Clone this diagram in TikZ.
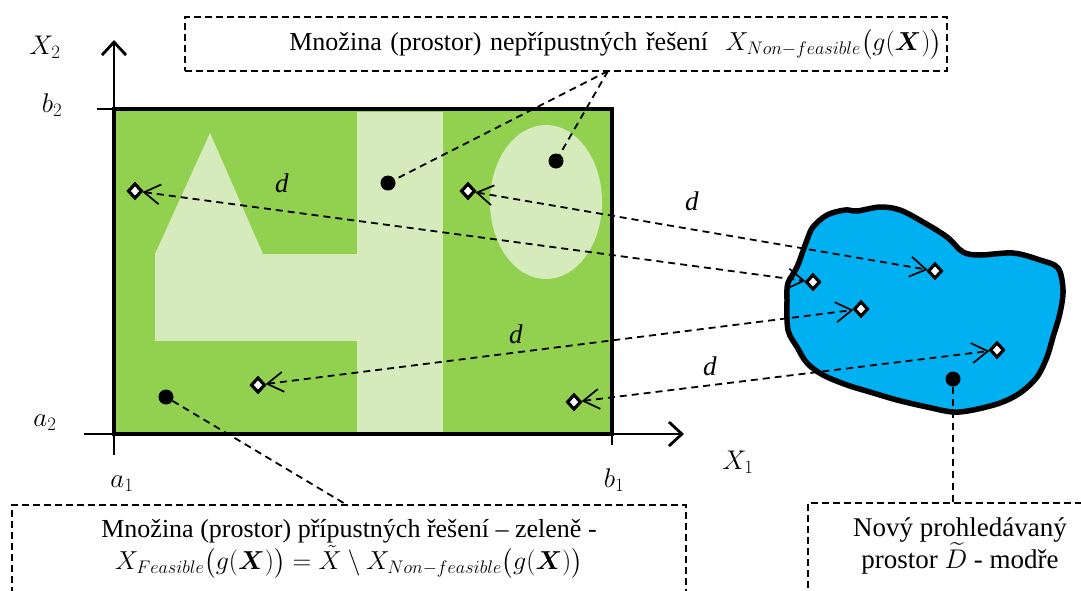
\RequirePackage{fix-cm}
\documentclass[tikz,border=0pt]{standalone}
\usepackage{fontspec}
\setmainfont{Liberation Serif}
\usepackage{amsmath}
\usetikzlibrary{arrows.meta,shapes.geometric}
\definecolor{dkgreen}{RGB}{146,208,80}
\definecolor{ltgreen}{RGB}{213,235,187}
\definecolor{blobblue}{RGB}{0,176,240}
\begin{document}
\begin{tikzpicture}[x=1pt,y=-1pt,
  dashln/.style={line width=1.8pt, dash pattern=on 7pt off 5pt},
  dist/.style={dashln, {Straight Barb[length=16pt,width=20pt,line width=1.7pt]}-{Straight Barb[length=16pt,width=20pt,line width=1.7pt]}},
  pt/.style={diamond, draw, fill=white, line width=3pt, minimum width=14pt, minimum height=15pt, inner sep=0pt},
  dot/.style={circle, fill=black, minimum size=15pt, inner sep=0pt},
  box/.style={draw, line width=1.3pt, dash pattern=on 7pt off 4pt},
  lbl/.style={font=\fontsize{26}{32}\selectfont},
  axl/.style={font=\fontsize{27}{30}\selectfont},
  axis/.style={line width=2.8pt},
  tick/.style={line width=1.3pt}
]
\useasboundingbox (0,0) rectangle (1081,590);
\clip (0,0) rectangle (1081,590);
% feasible region
\fill[dkgreen] (114,109) rectangle (612,434);
\fill[ltgreen] (155,254) -- (210,133) -- (263,254) -- cycle;
\fill[ltgreen] (155,254) rectangle (357,341);
\fill[ltgreen] (357,112) rectangle (443,432);
\fill[ltgreen] (546,202) ellipse [x radius=56, y radius=77];
\draw[line width=4.5pt] (114,109) rectangle (612,434);
% axes
\draw[axis, -{Straight Barb[length=13pt,width=24pt]}] (114,455) -- (114,40);
\draw[axis, -{Straight Barb[length=13pt,width=24pt]}] (84,434) -- (684,434);
\draw[tick] (612,434) -- (612,445);
\draw[tick] (97,109) -- (114,109);
\node[axl] (x2) at (45,47) {$X_2$};
\node[axl] (b2) at (52,105) {$b_2$};
\node[axl] (a2) at (45,423) {$a_2$};
\node[axl] (a1) at (122,484) {$a_1$};
\node[axl] (b1) at (614,480) {$b_1$};
\node[axl] (x1) at (738,462) {$X_1$};
% blob
\draw[line width=5.5pt, fill=blobblue] plot[smooth cycle, tension=0.55] coordinates {
 (827,215) (845,210) (857,211) (880,207) (900,210) (923,222) (947,237) (963,252) (980,255)
 (1013,253) (1040,260) (1058,268) (1063,290) (1060,313) (1053,337) (1047,357)
 (1037,377) (1020,393) (1000,403) (973,410) (953,412) (927,407) (897,400)
 (870,392) (847,385) (823,375) (807,363) (797,347) (788,330) (787,300)
 (788,283) (797,267) (807,240) (813,227)};
% points
\node[pt] (l1) at (135,191) {};
\node[pt] (l2) at (468,191) {};
\node[pt] (l3) at (258,385) {};
\node[pt] (l4) at (574,402) {};
\node[pt] (r1) at (813,282) {};
\node[pt] (r2) at (935,271) {};
\node[pt] (r3) at (861,309) {};
\node[pt] (r4) at (997,350) {};
\draw[dist] (l1) -- (r1);
\draw[dist] (l2) -- (r2);
\draw[dist] (l3) -- (r3);
\draw[dist] (l4) -- (r4);
\node[pt] at (l1) {};
\node[pt] at (l2) {};
\node[pt] at (l3) {};
\node[pt] at (l4) {};
\node[pt] at (r1) {};
\node[pt] at (r2) {};
\node[pt] at (r3) {};
\node[pt] at (r4) {};
\node[axl] (d1) at (282,183) {\textit{d}};
\node[axl] (d2) at (692,201) {\textit{d}};
\node[axl] (d3) at (516,334) {\textit{d}};
\node[axl] (d4) at (710,366) {\textit{d}};
% dots
\node[dot] (n1) at (388,183) {};
\node[dot] (n2) at (556,161) {};
\node[dot] (f1) at (166,397) {};
\node[dot] (b0) at (953,379) {};
% boxes
\node[box, lbl, minimum width=762pt, minimum height=54pt, text width=752pt, align=right, inner xsep=3pt] (topbox) at (566,44)
 {Množina (prostor) nepřípustných řešení\ \ $X_{Non-feasible}\bigl(g(\boldsymbol{X})\bigr)$};
\coordinate (tp) at (608,71);
\draw[dashln] (tp) -- (n1);
\draw[dashln] (tp) -- (n2);
\node[box, lbl, minimum width=674pt, minimum height=88pt, align=center] (feasbox) at (349,549)
 {Množina (prostor) přípustných řešení – zeleně -\\
  $X_{Feasible}\bigl(g(\boldsymbol{X})\bigr) = \tilde{X} \setminus X_{Non-feasible}\bigl(g(\boldsymbol{X})\bigr)$};
\coordinate (fp) at (347,505);
\draw[dashln] (f1) -- (fp);
\node[box, minimum width=290pt, minimum height=90pt] (newbox) at (953,548) {};
\node[lbl, align=center, font=\fontsize{27}{32}\selectfont] (newtext) at (960,546) {Nový prohledávaný\\prostor $\widetilde{D}$ - modře};
\draw[dashln] (b0) -- (newbox.north -| b0);
\end{tikzpicture}
\end{document}
